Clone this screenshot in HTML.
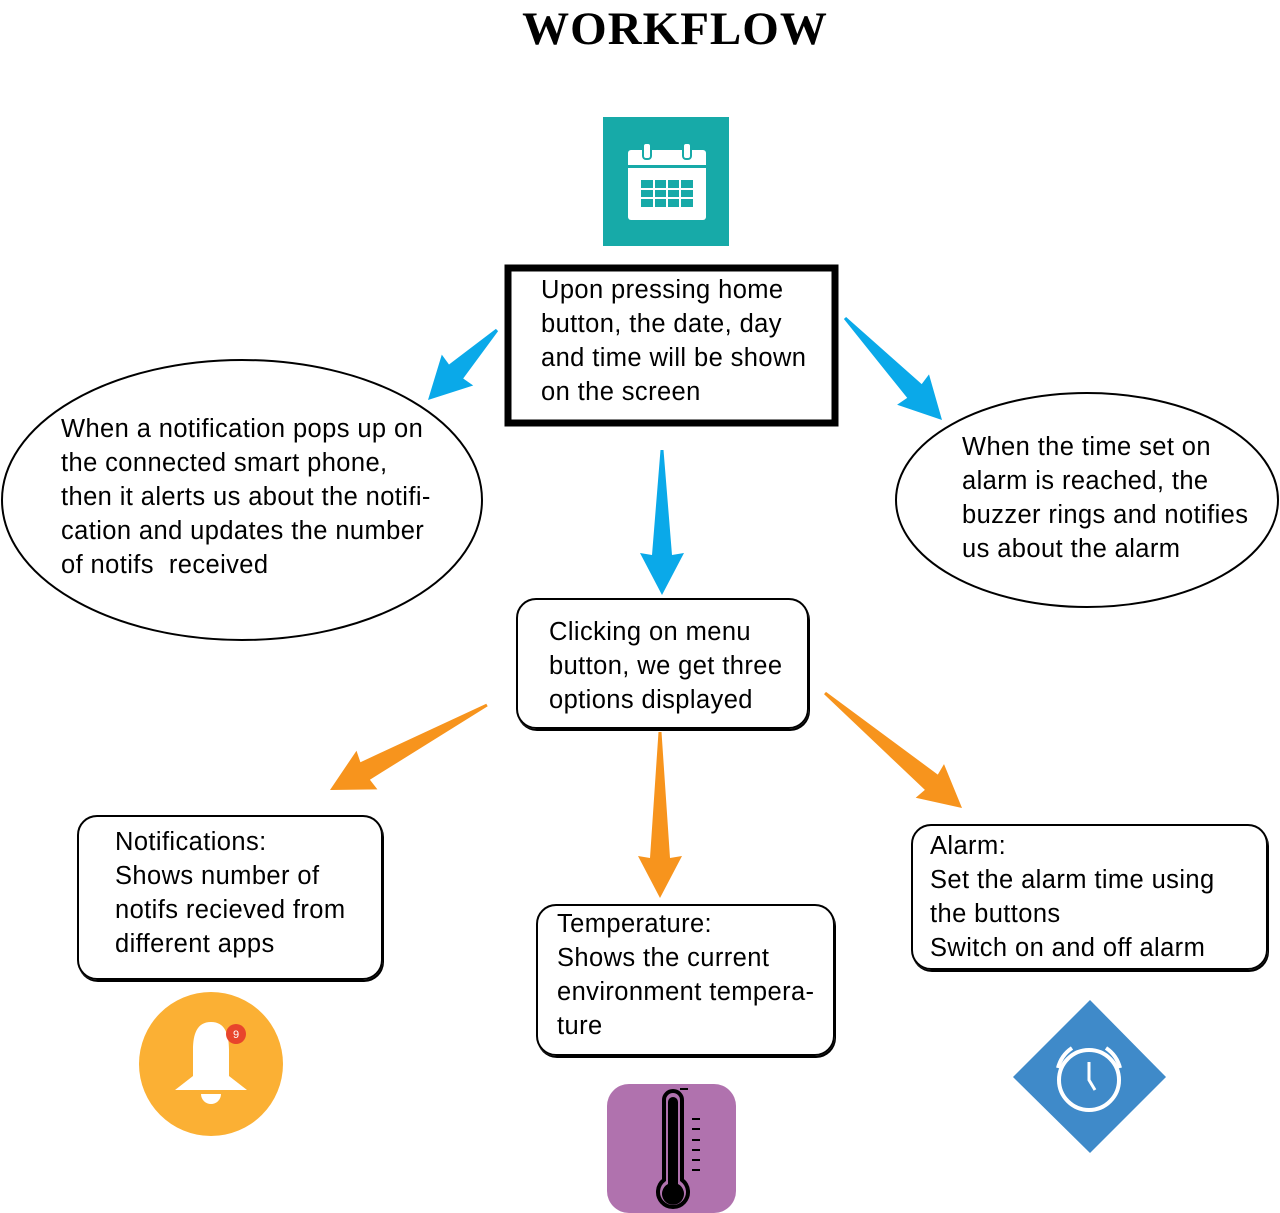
<!DOCTYPE html>
<html><head><style>
body{margin:0;width:1280px;height:1213px;background:#fff;position:relative;overflow:hidden;font-family:"Liberation Sans",sans-serif}
.t{position:absolute;font-size:25.5px;line-height:34px;color:#000;white-space:nowrap;letter-spacing:0.4px}
.b{position:absolute;border:2px solid #000;border-radius:20px;box-sizing:border-box;box-shadow:1px 2px 0 #000}
</style></head><body>
<div style="position:absolute;left:0;width:1350px;top:2px;text-align:center;font:bold 47px 'Liberation Serif',serif;letter-spacing:1px">WORKFLOW</div>
<svg width="1280" height="1213" style="position:absolute;left:0;top:0">
<ellipse cx="242" cy="500" rx="240" ry="140" fill="none" stroke="#000" stroke-width="2"/>
<ellipse cx="1087" cy="500" rx="191" ry="107" fill="none" stroke="#000" stroke-width="2"/>
<rect x="508" y="268" width="327" height="155" fill="none" stroke="#000" stroke-width="7"/>
<rect x="603" y="117" width="126" height="129" fill="#17aaa8"/>
<rect x="628" y="150" width="78" height="70" rx="3" fill="#fff"/>
<rect x="628" y="165" width="78" height="3" fill="#17aaa8"/>
<rect x="643" y="143" width="8" height="16" rx="3" fill="#fff" stroke="#17aaa8" stroke-width="2"/>
<rect x="683" y="143" width="8" height="16" rx="3" fill="#fff" stroke="#17aaa8" stroke-width="2"/>
<rect x="641" y="180" width="52" height="27" fill="#17aaa8"/>
<g stroke="#fff" stroke-width="2">
<line x1="654" y1="180" x2="654" y2="207"/><line x1="667" y1="180" x2="667" y2="207"/><line x1="680" y1="180" x2="680" y2="207"/>
<line x1="641" y1="189" x2="693" y2="189"/><line x1="641" y1="198" x2="693" y2="198"/>
</g>
<g id="arrows"></g>
<circle cx="211" cy="1064" r="72" fill="#fbb034"/>
<path d="M211 1022 c-14 0 -18 12 -18 28 v26 l-18 14 h72 l-18 -14 v-26 c0 -16 -4 -28 -18 -28z" fill="#fff"/>
<path d="M201 1094 a10 10 0 0 0 20 0z" fill="#fff"/>
<circle cx="236" cy="1034" r="10" fill="#e8452c"/>
<text x="236" y="1038" font-size="11" fill="#fff" text-anchor="middle" font-family="Liberation Sans">9</text>
<rect x="607" y="1084" width="129" height="129" rx="22" fill="#b072ae"/>
<path d="M664 1100 a9 9 0 0 1 18 0 v80 a15 15 0 1 1 -18 0z" fill="none" stroke="#000" stroke-width="4"/>
<path d="M668 1102 a5 5 0 0 1 10 0 v82 a11 11 0 1 1 -10 0z" fill="#000"/>
<g stroke="#000" stroke-width="2"><line x1="680" y1="1089" x2="688" y2="1089"/><line x1="692" y1="1119" x2="700" y2="1119"/><line x1="692" y1="1129" x2="700" y2="1129"/><line x1="692" y1="1140" x2="700" y2="1140"/><line x1="692" y1="1150" x2="700" y2="1150"/><line x1="692" y1="1160" x2="700" y2="1160"/><line x1="692" y1="1170" x2="700" y2="1170"/></g>
<polygon points="1090,1000 1166,1077 1090,1153 1013,1077" fill="#3f8ac9"/>
<circle cx="1089" cy="1080" r="30" fill="none" stroke="#fff" stroke-width="4"/>
<path d="M1089 1062 v18 l6 10" fill="none" stroke="#fff" stroke-width="3"/>
<path d="M1058 1068 a34 34 0 0 1 14 -20 M1120 1068 a34 34 0 0 0 -14 -20" fill="none" stroke="#fff" stroke-width="4"/>
</svg>
<div class="b" style="left:516px;top:598px;width:293px;height:131px"></div>
<div class="b" style="left:77px;top:815px;width:306px;height:165px"></div>
<div class="b" style="left:536px;top:904px;width:299px;height:152px"></div>
<div class="b" style="left:911px;top:824px;width:357px;height:146px"></div>
<div class="t" style="left:541px;top:273px">Upon pressing home<br>button, the date, day<br>and time will be shown<br>on the screen</div>
<div class="t" style="left:61px;top:412px">When a notification pops up on<br>the connected smart phone,<br>then it alerts us about the notifi-<br>cation and updates the number<br>of notifs&nbsp; received</div>
<div class="t" style="left:962px;top:430px">When the time set on<br>alarm is reached, the<br>buzzer rings and notifies<br>us about the alarm</div>
<div class="t" style="left:549px;top:615px">Clicking on menu<br>button, we get three<br>options displayed</div>
<div class="t" style="left:115px;top:825px">Notifications:<br>Shows number of<br>notifs recieved from<br>different apps</div>
<div class="t" style="left:557px;top:907px">Temperature:<br>Shows the current<br>environment tempera-<br>ture</div>
<div class="t" style="left:930px;top:829px">Alarm:<br>Set the alarm time using<br>the buttons<br>Switch on and off alarm</div>
<script>
var A=[[497,330,428,400,'#0aa9e9'],[845,318,942,420,'#0aa9e9'],[662,450,662,595,'#0aa9e9'],[487,705,330,790,'#f7941d'],[660,732,660,898,'#f7941d'],[825,693,962,808,'#f7941d']];
var s='';A.forEach(function(a){var dx=a[2]-a[0],dy=a[3]-a[1],L=Math.hypot(dx,dy),ux=dx/L,uy=dy/L,px=-uy,py=ux,h=40,hw=22;
function P(d,w){return (a[0]+ux*d+px*w).toFixed(1)+','+(a[1]+uy*d+py*w).toFixed(1)}
s+='<polygon fill="'+a[4]+'" points="'+[P(0,-1.5),P(L-h,-10),P(L-h-2,-hw),P(L,0),P(L-h-2,hw),P(L-h,10),P(0,1.5)].join(' ')+'"/>';});
document.getElementById('arrows').innerHTML=s;
</script>
</body></html>
